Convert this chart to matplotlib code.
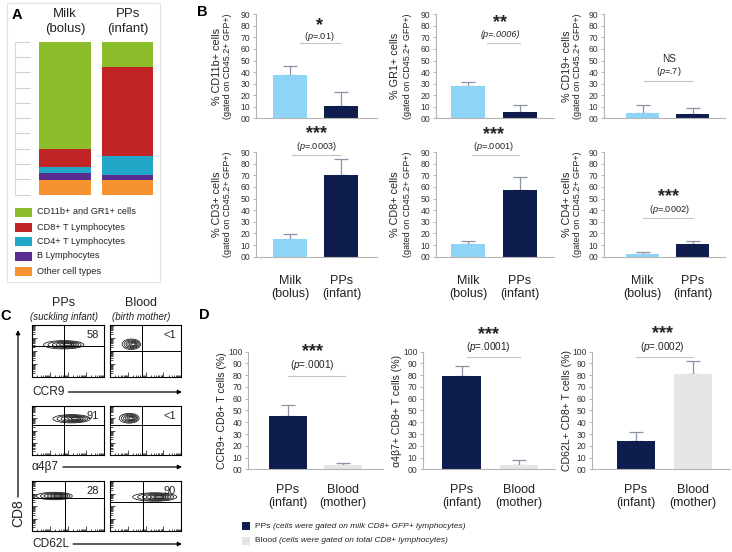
import matplotlib
matplotlib.use('Agg')
import matplotlib.pyplot as plt
import numpy as np
from matplotlib.patches import Rectangle, Ellipse
from matplotlib.ticker import FuncFormatter, MultipleLocator, LogLocator, NullFormatter
import matplotlib.transforms as mtransforms

plt.rcParams['font.family'] = ['Liberation Sans', 'DejaVu Sans']
plt.rcParams['mathtext.fontset'] = 'custom'
plt.rcParams['mathtext.rm'] = 'Liberation Sans'
plt.rcParams['mathtext.it'] = 'Liberation Sans:italic'
plt.rcParams['mathtext.bf'] = 'Liberation Sans:bold'

# ---------------- data ----------------
A_groups = ['Milk\n(bolus)', 'PPs\n(infant)']
A_labels = ['CD11b+ and GR1+ cells', 'CD8+ T Lymphocytes', 'CD4+ T Lymphocytes',
            'B Lymphocytes', 'Other cell types']
A_other = [9.4, 9.4]
A_bcell = [4.4, 3.5]
A_cd4 = [4.4, 12.5]
A_cd8 = [11.6, 57.9]
A_cd11b = [70.2, 16.7]

B_groups = ['Milk\n(bolus)', 'PPs\n(infant)']
B_markers = ['% CD11b+ cells', '% GR1+ cells', '% CD19+ cells',
             '% CD3+ cells', '% CD8+ cells', '% CD4+ cells']
B_mean_cd11b = [37.5, 10.6]
B_err_cd11b = [7.8, 11.9]
B_mean_gr1 = [28.0, 5.7]
B_err_gr1 = [3.7, 5.8]
B_mean_cd19 = [4.3, 3.7]
B_err_cd19 = [6.9, 5.2]
B_mean_cd3 = [15.0, 70.2]
B_err_cd3 = [4.2, 13.5]
B_mean_cd8 = [10.6, 57.0]
B_err_cd8 = [2.6, 11.2]
B_mean_cd4 = [2.3, 10.6]
B_err_cd4 = [1.4, 3.1]
B_sig = ['*', '**', 'NS', '***', '***', '***']
B_pval = ['.01', '.0006', '.7', '.0003', '.0001', '.0002']

C_rows = ['CCR9', 'α4β7', 'CD62L']
C_cols = ['PPs', 'Blood']
C_cols_sub = ['(suckling infant)', '(birth mother)']
C_pct = [['58', '<1'], ['91', '<1'], ['28', '90']]

D_groups = ['PPs\n(infant)', 'Blood\n(mother)']
D_ylabels = ['CCR9+ CD8+ T cells (%)', 'α4β7+ CD8+ T cells (%)', 'CD62L+ CD8+ T cells (%)']
D_mean_ccr9 = [45.3, 3.7]
D_err_ccr9 = [9.1, 2.0]
D_mean_a4b7 = [79.0, 4.0]
D_err_a4b7 = [8.8, 3.6]
D_mean_cd62l = [24.3, 80.8]
D_err_cd62l = [7.4, 11.0]
D_sig = ['***', '***', '***']
D_pval = ['.0001', '.0001', '.0002']
D_legend = ['(cells were gated on milk CD8+ GFP+ lymphocytes)',
            '(cells were gated on total CD8+ lymphocytes)']

# ---------------- styling / layout ----------------
W, H = 732, 552
fig = plt.figure(figsize=(W / 100, H / 100), dpi=100)

C_GREEN = '#8cbd2b'
C_RED = '#c12424'
C_CYAN = '#22a7c8'
C_PURPLE = '#5a2d90'
C_ORANGE = '#f6922f'
C_LBLUE = '#8dd4f6'
C_NAVY = '#0e1d4e'
C_LGRAY = '#e6e6e6'
SPINE = '#b5b5b5'
ERRC = '#8a93a3'
TXT = '#222222'


def add_px(l, t, r, b, **kw):
    return fig.add_axes([l / W, 1 - b / H, (r - l) / W, (b - t) / H], **kw)


ov = fig.add_axes([0, 0, 1, 1], zorder=10)
ov.set_xlim(0, W)
ov.set_ylim(H, 0)
ov.axis('off')

# panel letters
for lab, (x, y) in zip('ABCD', [(17, 15), (202, 12), (6, 316), (204, 315)]):
    ov.text(x, y, lab, fontsize=10.5, fontweight='bold', ha='center', va='center')

# ---------------- Panel A ----------------
ov.add_patch(Rectangle((7, 3), 153, 279, fill=False, edgecolor='#e2e2e2', lw=0.8))
axA = add_px(15, 42, 157, 194.5)
xa = np.arange(len(A_groups))
bottom = np.zeros(2)
for vals, col in zip([A_other, A_bcell, A_cd4, A_cd8, A_cd11b],
                     [C_ORANGE, C_PURPLE, C_CYAN, C_RED, C_GREEN]):
    axA.bar(xa, vals, bottom=bottom, width=0.82, color=col, edgecolor='none')
    bottom = bottom + np.array(vals)
axA.set_xlim(-0.80, 1.47)
axA.set_ylim(0, 100)
axA.yaxis.set_major_locator(MultipleLocator(10))
axA.tick_params(axis='y', direction='in', length=11, color='#d0d0d0', width=0.8, labelleft=False)
axA.set_xticks([])
for s in ['top', 'right', 'bottom']:
    axA.spines[s].set_visible(False)
axA.spines['left'].set_color('#d8d8d8')
axA.patch.set_visible(False)
tA = mtransforms.blended_transform_factory(axA.transData, ov.transData)
for i, g in enumerate(A_groups):
    ov.text(i, 21.5, g, transform=tA, ha='center', va='center', fontsize=9.5,
            linespacing=1.25, color=TXT)
leg_y = [212, 227, 241, 256, 271]
for y, lab, col in zip(leg_y, A_labels, [C_GREEN, C_RED, C_CYAN, C_PURPLE, C_ORANGE]):
    ov.add_patch(Rectangle((15, y - 4.5), 17, 9, facecolor=col, edgecolor='none'))
    ov.text(37, y, lab, fontsize=6.6, va='center', ha='left', color=TXT)

# ---------------- helpers for bar panels ----------------
def pval_text(ax_t, x, y, p, italic_all=False, fs=6.6):
    if italic_all:
        ov.text(x, y, '(p=%s)' % p, transform=ax_t, ha='center', va='center',
                fontsize=fs, style='italic', color=TXT)
    else:
        ov.text(x, y, '($\\mathit{p}$=%s)' % p, transform=ax_t, ha='center', va='center',
                fontsize=fs, color=TXT)


def star_text(ax, x, y, s):
    # asterisks sit high in the glyph box: anchor on the baseline
    ax.text(x, y, s, ha='center', va='baseline', fontsize=13, fontweight='bold',
            color=TXT, clip_on=False)


def bar_panel(ax, means, errs, colors, xlim, ymax, step, width):
    x = np.arange(len(means))
    ax.bar(x, means, width=width, color=colors, edgecolor='none', zorder=2)
    ax.errorbar(x, means, yerr=[np.zeros(len(errs)), errs], fmt='none', ecolor=ERRC,
                elinewidth=0.9, capsize=5, capthick=0.9, zorder=1)
    ax.set_xlim(*xlim)
    ax.set_ylim(0, ymax)
    ax.yaxis.set_major_locator(MultipleLocator(step))
    ax.yaxis.set_major_formatter(FuncFormatter(lambda v, p: '%02d' % int(round(v))))
    ax.tick_params(axis='y', direction='out', length=2.5, width=0.7, color=SPINE,
                   labelsize=6.2, labelcolor='#333333', pad=1.5)
    ax.set_xticks([])
    for s in ['top', 'right']:
        ax.spines[s].set_visible(False)
    for s in ['left', 'bottom']:
        ax.spines[s].set_color(SPINE)
        ax.spines[s].set_linewidth(0.8)
    ax.patch.set_visible(False)


# ---------------- Panel B ----------------
B_means = [B_mean_cd11b, B_mean_gr1, B_mean_cd19, B_mean_cd3, B_mean_cd8, B_mean_cd4]
B_errs = [B_err_cd11b, B_err_gr1, B_err_cd19, B_err_cd3, B_err_cd8, B_err_cd4]
col_lr = [(256, 377), (436, 554), (604, 725)]
col_xlim = [(-0.66, 1.69), (-0.63, 1.66), (-0.77, 1.65)]
row_tb = [(14.3, 118.3), (152, 256.7)]
# annotation layout: star baseline y, p y, line y, line x0, line x1, text x (data units)
B_ann = [(76.0, 70.8, 65, 0.2, 1.0, 0.57),
         (79.0, 72.6, 65, 0.36, 1.0, 0.62),
         (51.0, 40.7, 32, 0.03, 1.0, 0.53),
         (102.0, 95.0, 87.2, 0.03, 1.0, 0.52),
         (101.5, 95.0, 87.2, 0.06, 0.98, 0.48),
         (47.5, 40.3, 33, 0.0, 1.0, 0.53)]
ylab_off = [39, 41, 37]
ylab_off2 = [28, 29, 26]
for k in range(6):
    r, c = divmod(k, 3)
    l, rr = col_lr[c]
    t, b = row_tb[r]
    ax = add_px(l, t, rr, b)
    bar_panel(ax, B_means[k], B_errs[k], [C_LBLUE, C_NAVY], col_xlim[c], 90, 10, 0.66)
    sy, py, ly, lx0, lx1, tx = B_ann[k]
    ax.plot([lx0, lx1], [ly, ly], color='#c4c4c4', lw=0.8, clip_on=False)
    if B_sig[k] == 'NS':
        ax.text(tx, sy, 'NS', ha='center', va='center', fontsize=7.2, color=TXT, clip_on=False)
    else:
        star_text(ax, tx, sy, B_sig[k])
    pval_text(ax.transData, tx, py, B_pval[k], italic_all=(k == 1))
    yc = (t + b) / 2
    ov.text(l - ylab_off[c], yc, B_markers[k], rotation=90, ha='center', va='center',
            fontsize=7.8, color=TXT)
    ov.text(l - ylab_off2[c], yc, '(gated on CD45.2+ GFP+)', rotation=90, ha='center',
            va='center', fontsize=6.5, color=TXT)
    if r == 1:
        tB = mtransforms.blended_transform_factory(ax.transData, ov.transData)
        for i, g in enumerate(B_groups):
            ov.text(i, 287.5, g, transform=tB, ha='center', va='center', fontsize=9,
                    linespacing=1.2, color=TXT)

# ---------------- Panel C ----------------
C_box_x = [(32, 104), (110, 181)]
C_box_y = [(325, 377), (406, 455), (481, 531)]
C_gate_x = [[0.45, 0.456], [0.45, 0.456], [0.465, 0.465]]
C_gate_y = [[0.60, 0.50], [0.61, 0.61], [0.66, 0.58]]
C_blob = [[(0.44, 0.62, 0.56, 0.16), (0.30, 0.63, 0.26, 0.2)],
          [(0.55, 0.74, 0.52, 0.17), (0.27, 0.75, 0.28, 0.2)],
          [(0.31, 0.70, 0.50, 0.15), (0.63, 0.68, 0.62, 0.17)]]
for j, (cx, sub) in enumerate(zip(C_cols, C_cols_sub)):
    xc = sum(C_box_x[j]) / 2 - 4
    ov.text(xc, 303, cx, ha='center', va='center', fontsize=9, color=TXT)
    ov.text(xc, 317, sub, ha='center', va='center', fontsize=7, style='italic', color=TXT)
for i in range(3):
    for j in range(2):
        l, rr = C_box_x[j]
        t, b = C_box_y[i]
        ax = add_px(l, t, rr, b)
        ax.set_xscale('log')
        ax.set_yscale('log')
        ax.set_xlim(1, 1e4)
        ax.set_ylim(1, 1e4)
        for axis in [ax.xaxis, ax.yaxis]:
            axis.set_major_locator(LogLocator(base=10, numticks=10))
            axis.set_minor_locator(LogLocator(base=10, subs=np.arange(2, 10), numticks=50))
            axis.set_minor_formatter(NullFormatter())
        ax.tick_params(which='both', direction='in', labelleft=False, labelbottom=False,
                       top=False, right=False, width=0.6, color='#333333')
        ax.tick_params(which='major', length=3.5)
        ax.tick_params(which='minor', length=1.8)
        for s in ax.spines.values():
            s.set_linewidth(0.8)
        gx = C_gate_x[i][j]
        gy = C_gate_y[i][j]
        ax.plot([gx, gx], [0, 1], transform=ax.transAxes, color='black', lw=0.7)
        ax.plot([0, 1], [gy, gy], transform=ax.transAxes, color='black', lw=0.7)
        bx, by, bw, bh = C_blob[i][j]
        for s in [1.0, 0.82, 0.65, 0.5, 0.36, 0.22]:
            ax.add_patch(Ellipse((bx + (1 - s) * bw * 0.12, by), bw * s, bh * s,
                                 transform=ax.transAxes, fill=False,
                                 edgecolor='#111111', lw=0.55))
        ax.text(0.93, 0.8, C_pct[i][j], transform=ax.transAxes, ha='right', va='center',
                fontsize=8, color=TXT)
row_lab_y = [392, 467, 544]
for lab, y in zip(C_rows, row_lab_y):
    ov.text(32, y, lab, ha='left', va='center', fontsize=8.6, color=TXT)
fig.canvas.draw()
rend = fig.canvas.get_renderer()
for tt in [t for t in ov.texts if t.get_text() in C_rows]:
    bb = tt.get_window_extent(rend)
    x_end = bb.x1 + 4
    y = tt.get_position()[1]
    ov.annotate('', xy=(182, y), xytext=(x_end, y), xycoords='data', textcoords='data',
                arrowprops=dict(arrowstyle='-|>', color='black', lw=0.9, mutation_scale=6,
                                shrinkA=0, shrinkB=0))
ov.text(18, 513, 'CD8', rotation=90, ha='center', va='center', fontsize=10, color=TXT)
ov.annotate('', xy=(18, 330), xytext=(18, 497),
            arrowprops=dict(arrowstyle='-|>', color='black', lw=0.9, mutation_scale=6,
                            shrinkA=0, shrinkB=0))

# ---------------- Panel D ----------------
D_means = [D_mean_ccr9, D_mean_a4b7, D_mean_cd62l]
D_errs = [D_err_ccr9, D_err_a4b7, D_err_cd62l]
D_lr = [(248, 383), (423, 555), (592, 730)]
D_xlim = [(-0.73, 1.73), (-0.68, 1.63), (-0.77, 1.65)]
D_ylab_x = [222, 397, 567]
D_ann = [(96.0, 88.3, 79.6, 0.0, 1.04, 0.45),
         (111.0, 103.9, 95.2, 0.09, 1.02, 0.46),
         (111.5, 103.6, 95.8, 0.0, 1.0, 0.47)]
for k in range(3):
    l, rr = D_lr[k]
    ax = add_px(l, 351.7, rr, 469.3)
    bar_panel(ax, D_means[k], D_errs[k], [C_NAVY, C_LGRAY], D_xlim[k], 100, 10, 0.68)
    sy, py, ly, lx0, lx1, tx = D_ann[k]
    ax.plot([lx0, lx1], [ly, ly], color='#c4c4c4', lw=0.8, clip_on=False)
    star_text(ax, tx, sy, D_sig[k])
    pval_text(ax.transData, tx, py, D_pval[k], fs=7.2)
    ov.text(D_ylab_x[k], 410.5, D_ylabels[k], rotation=90, ha='center', va='center',
            fontsize=7.6, color=TXT)
    tD = mtransforms.blended_transform_factory(ax.transData, ov.transData)
    for i, g in enumerate(D_groups):
        ov.text(i, 496.5, g, transform=tD, ha='center', va='center', fontsize=9,
                linespacing=1.2, color=TXT)

for y, name, col, desc in zip([526, 541], ['PPs', 'Blood'], [C_NAVY, C_LGRAY], D_legend):
    ov.add_patch(Rectangle((242, y - 4), 8, 8, facecolor=col, edgecolor='none'))
    t1 = ov.text(255, y, name + ' ', ha='left', va='center', fontsize=6, color=TXT)
    fig.canvas.draw()
    bb = t1.get_window_extent(fig.canvas.get_renderer())
    x_px = bb.x1
    ov.text(x_px, y, desc, transform=mtransforms.blended_transform_factory(
        mtransforms.IdentityTransform(), ov.transData),
        ha='left', va='center', fontsize=6, style='italic', color=TXT)

fig.savefig('out.png', dpi=100)
